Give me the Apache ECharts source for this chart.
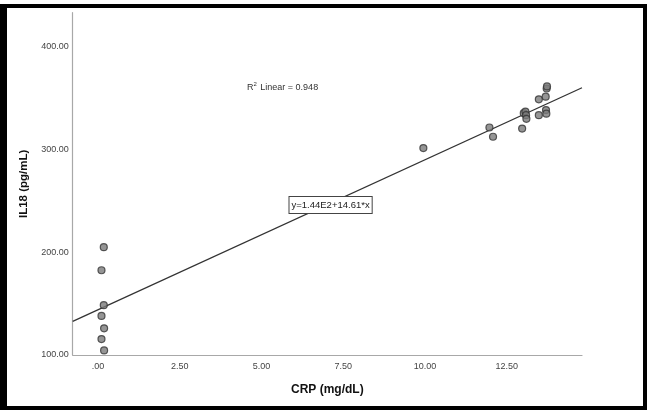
<!DOCTYPE html>
<html>
<head>
<meta charset="utf-8">
<title>IL18 vs CRP</title>
<script src="https://cdn.jsdelivr.net/npm/echarts@6/dist/echarts.min.js"></script>
<style>
  html, body { margin: 0; padding: 0; background: #ffffff; }
  #wrap { position: relative; width: 647px; height: 410px; overflow: hidden; }
  #chart { position: absolute; left: 0; top: 0; width: 647px; height: 410px; }
  #frame {
    position: absolute; left: 0; top: 4px; width: 647px; height: 406px;
    box-sizing: border-box; border-style: solid; border-color: #000;
    border-width: 4px 4px 4px 7px; pointer-events: none;
  }
</style>
</head>
<body>
<div id="wrap">
  <div id="chart"></div>
  <div id="frame"></div>
</div>
<script>
// CRP (mg/dL) and IL18 (pg/mL) for each subject
const crpValues = [
  0.18, 0.11, 0.18, 0.11, 0.19, 0.11, 0.19,
  9.95,
  11.97, 12.08, 12.97, 13.02, 13.07, 13.09, 13.10,
  13.48, 13.48, 13.69, 13.72, 13.73, 13.70, 13.71
];
const il18Values = [
  205.0, 182.5, 148.5, 138.0, 126.0, 115.5, 104.5,
  301.5,
  321.5, 312.5, 320.5, 335.5, 337.0, 333.5, 330.0,
  349.0, 333.5, 351.5, 359.5, 361.5, 338.5, 335.0
];

// Linear fit reported on the plot
const fitIntercept = 144;
const fitSlope = 14.61;
const fitR2 = 0.948;

// Axis ranges and tick labels
const xRange = [-0.77, 14.8];
const yRange = [100, 433.3];
const xTickValues = [0, 2.5, 5, 7.5, 10, 12.5];
const xTickLabels = ['.00', '2.50', '5.00', '7.50', '10.00', '12.50'];
const yTickValues = [100, 200, 300, 400];
const yTickLabels = ['100.00', '200.00', '300.00', '400.00'];

const points = crpValues.map((x, i) => [x, il18Values[i]]);
const fitLine = xRange.map(x => [x, fitIntercept + fitSlope * x]);

function tickLabel(values, labels) {
  return v => {
    const i = values.findIndex(t => Math.abs(t - v) < 1e-6);
    return i >= 0 ? labels[i] : '';
  };
}

const FONT = '"Liberation Sans", Arial, sans-serif';
const chart = echarts.init(document.getElementById('chart'), null, { renderer: 'canvas' });

chart.setOption({
  animation: false,
  backgroundColor: '#ffffff',
  grid: { left: 72.7, right: 65, top: 12.7, bottom: 55, containLabel: false },
  xAxis: {
    type: 'value',
    min: xRange[0],
    max: xRange[1],
    name: 'CRP (mg/dL)',
    nameLocation: 'middle',
    nameGap: 29,
    nameTextStyle: { fontFamily: FONT, fontSize: 12, fontWeight: 'bold', color: '#111' },
    axisLine: { show: true, onZero: false, lineStyle: { color: '#a8a8a8', width: 1.2 } },
    axisTick: { show: false },
    splitLine: { show: false },
    axisLabel: {
      customValues: xTickValues,
      formatter: tickLabel(xTickValues, xTickLabels),
      fontFamily: FONT, fontSize: 9, color: '#444', margin: 7
    }
  },
  yAxis: {
    type: 'value',
    min: yRange[0],
    max: yRange[1],
    name: 'IL18 (pg/mL)',
    nameLocation: 'middle',
    nameGap: 38,
    nameTextStyle: { fontFamily: FONT, fontSize: 11.5, fontWeight: 'bold', color: '#111' },
    axisLine: { show: true, onZero: false, lineStyle: { color: '#a8a8a8', width: 1.2 } },
    axisTick: { show: false },
    splitLine: { show: false },
    axisLabel: {
      customValues: yTickValues,
      formatter: tickLabel(yTickValues, yTickLabels),
      fontFamily: FONT, fontSize: 9, color: '#444', margin: 4
    }
  },
  series: [
    {
      name: 'Fit',
      type: 'line',
      data: fitLine,
      symbol: 'none',
      lineStyle: { color: '#333', width: 1.3 },
      z: 2,
      silent: true
    },
    {
      name: 'Subjects',
      type: 'scatter',
      data: points,
      symbol: 'circle',
      symbolSize: 7,
      itemStyle: { color: '#7a7a7a', borderColor: '#333', borderWidth: 1.2 },
      z: 3
    }
  ],
  graphic: [
    {
      type: 'text',
      left: 247,
      top: 81,
      style: {
        text: '{r|R}{s|2}{r| Linear = ' + fitR2.toFixed(3) + '}',
        rich: {
          r: { fontFamily: FONT, fontSize: 9, fill: '#333', verticalAlign: 'bottom', lineHeight: 11 },
          s: { fontFamily: FONT, fontSize: 6, fill: '#333', verticalAlign: 'top', lineHeight: 11, padding: [0, 1, 4, 0] }
        }
      },
      z: 10
    },
    {
      type: 'text',
      left: 288.5,
      top: 196,
      style: {
        text: 'y=1.44E2+14.61*x',
        fontFamily: FONT,
        fontSize: 9.5,
        fill: '#222',
        backgroundColor: '#ffffff',
        borderColor: '#444',
        borderWidth: 1,
        padding: [3, 2, 3, 2]
      },
      z: 10
    }
  ]
});
</script>
</body>
</html>
